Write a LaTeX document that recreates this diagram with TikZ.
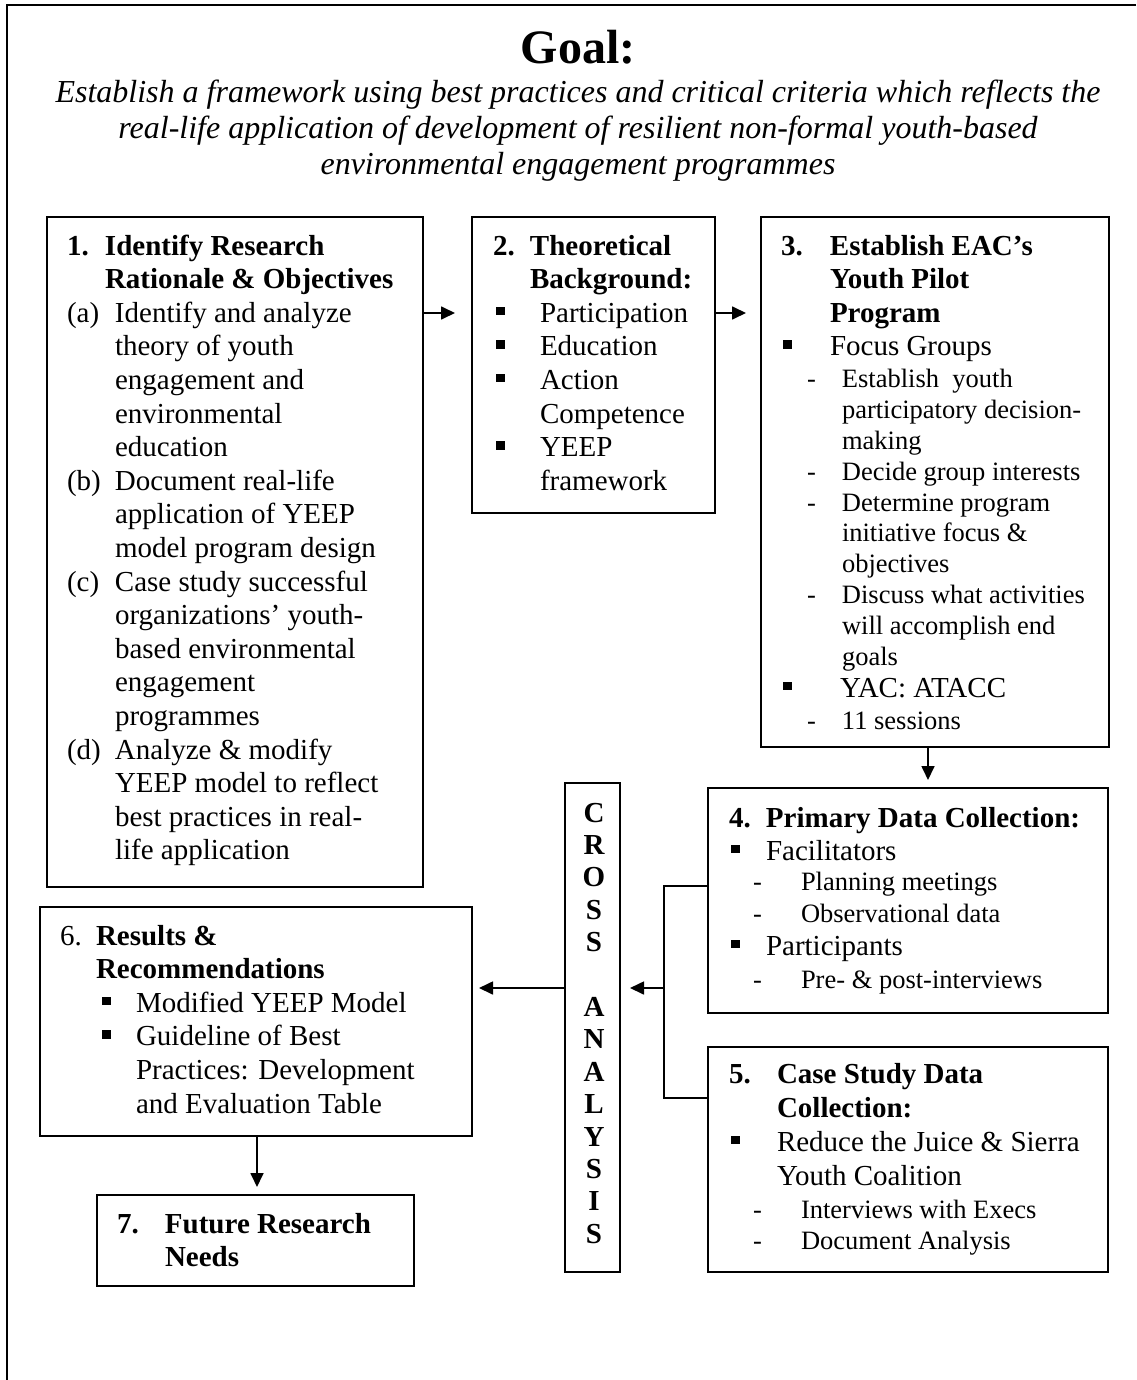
\documentclass[tikz,border=0pt]{standalone}
\usepackage{fontspec}
\setmainfont{Liberation Serif}
\usetikzlibrary{arrows.meta}

% body and sub-item fonts
\newcommand\mf{\fontsize{29pt}{33.6pt}\selectfont}
\newcommand\subfont{\fontsize{26.5pt}{31pt}\selectfont}
% one text line set #1 pt below the previous baseline
\newcommand\bxl[2]{\baselineskip=#1pt\hbox{#2}}
% square list bullet
\newcommand\sqb{\rule[7pt]{8.5pt}{8.5pt}}
% a stack of lines whose first baseline is the node's base
\newcommand\stack[1]{\vtop{\lineskiplimit=-100pt\lineskip=0pt #1}}
% centred single letter
\newcommand\cl[1]{\hbox to 0pt{\hss\mf\bfseries #1\hss}}

\begin{document}
\begin{tikzpicture}[x=1pt,y=-1pt,
  box/.style={draw, line width=1.7pt, rectangle, anchor=north west,
              inner sep=0pt, outer sep=0pt},
  txt/.style={anchor=base west, inner sep=0pt, outer sep=0pt},
  arr/.style={line width=1.7pt, -{Triangle[length=14pt,width=13pt]}},
  link/.style={line width=1.7pt}]

\useasboundingbox (0,0) rectangle (1136,1380);

% page frame (top and left rules)
\draw[line width=2.2pt] (1136,5) -- (7,5) -- (7,1380);

% heading
\node[anchor=base, inner sep=0pt] (goal) at (578,64)
  {\fontsize{48pt}{56pt}\selectfont\bfseries Goal:};
\node[anchor=base, inner sep=0pt] (aim) at (578,103) {\stack{%
  \itshape\fontsize{32pt}{36pt}\selectfont
  \hbox to 0pt{\hss Establish a framework using best practices and critical criteria which reflects the\hss}%
  \hbox to 0pt{\hss real-life application of development of resilient non-formal youth-based\hss}%
  \hbox to 0pt{\hss environmental engagement programmes\hss}}};

% frames
\node[box, minimum width=376pt, minimum height=670pt] (b1) at (47,217) {};
\node[box, minimum width=243pt, minimum height=296pt] (b2) at (472,217) {};
\node[box, minimum width=348pt, minimum height=530pt] (b3) at (761,217) {};
\node[box, minimum width=400pt, minimum height=225pt] (b4) at (708,788) {};
\node[box, minimum width=400pt, minimum height=225pt] (b5) at (708,1047) {};
\node[box, minimum width=55pt,  minimum height=489pt] (cross) at (565,783) {};
\node[box, minimum width=432pt, minimum height=229pt] (b6) at (40,907) {};
\node[box, minimum width=317pt, minimum height=91pt]  (b7) at (97,1195) {};

% 1
\node[txt] (t1) at (67,255) {\stack{%
  \bxl{0}{\mf\makebox[38pt][l]{\bfseries 1.}\bfseries Identify Research}%
  \bxl{33.6}{\mf\kern38pt\bfseries Rationale \& Objectives}%
  \bxl{33.6}{\mf\makebox[48pt][l]{(a)}Identify and analyze}%
  \bxl{33.6}{\mf\kern48pt theory of youth}%
  \bxl{33.6}{\mf\kern48pt engagement and}%
  \bxl{33.6}{\mf\kern48pt environmental}%
  \bxl{33.6}{\mf\kern48pt education}%
  \bxl{33.6}{\mf\makebox[48pt][l]{(b)}Document real-life}%
  \bxl{33.6}{\mf\kern48pt application of YEEP}%
  \bxl{33.6}{\mf\kern48pt model program design}%
  \bxl{33.6}{\mf\makebox[48pt][l]{(c)}Case study successful}%
  \bxl{33.6}{\mf\kern48pt organizations’ youth-}%
  \bxl{33.6}{\mf\kern48pt based environmental}%
  \bxl{33.6}{\mf\kern48pt engagement}%
  \bxl{33.6}{\mf\kern48pt programmes}%
  \bxl{33.6}{\mf\makebox[48pt][l]{(d)}Analyze \& modify}%
  \bxl{33.6}{\mf\kern48pt YEEP model to reflect}%
  \bxl{33.6}{\mf\kern48pt best practices in real-}%
  \bxl{33.6}{\mf\kern48pt life application}}};

% 2
\node[txt] (t2) at (493,255) {\stack{%
  \bxl{0}{\mf\makebox[37pt][l]{\bfseries 2.}\bfseries Theoretical}%
  \bxl{33.6}{\mf\kern37pt\bfseries Background:}%
  \bxl{33.6}{\mf\makebox[47pt][l]{\kern3pt\sqb}Participation}%
  \bxl{33.6}{\mf\makebox[47pt][l]{\kern3pt\sqb}Education}%
  \bxl{33.6}{\mf\makebox[47pt][l]{\kern3pt\sqb}Action}%
  \bxl{33.6}{\mf\kern47pt Competence}%
  \bxl{33.6}{\mf\makebox[47pt][l]{\kern3pt\sqb}YEEP}%
  \bxl{33.6}{\mf\kern47pt framework}}};

% 3
\node[txt] (t3) at (781,255) {\stack{%
  \bxl{0}{\mf\makebox[49pt][l]{\bfseries 3.}\bfseries Establish EAC’s}%
  \bxl{33.6}{\mf\kern49pt\bfseries Youth Pilot}%
  \bxl{33.6}{\mf\kern49pt\bfseries Program}%
  \bxl{33.6}{\mf\makebox[49pt][l]{\kern2pt\sqb}Focus Groups}%
  \bxl{32}{\subfont\makebox[61pt][l]{\kern26pt-}Establish\ \ youth}%
  \bxl{30.8}{\subfont\kern61pt participatory decision-}%
  \bxl{30.8}{\subfont\kern61pt making}%
  \bxl{30.8}{\subfont\makebox[61pt][l]{\kern26pt-}Decide group interests}%
  \bxl{30.8}{\subfont\makebox[61pt][l]{\kern26pt-}Determine program}%
  \bxl{30.8}{\subfont\kern61pt initiative focus \&}%
  \bxl{30.8}{\subfont\kern61pt objectives}%
  \bxl{30.8}{\subfont\makebox[61pt][l]{\kern26pt-}Discuss what activities}%
  \bxl{30.8}{\subfont\kern61pt will accomplish end}%
  \bxl{30.8}{\subfont\kern61pt goals}%
  \bxl{32}{\mf\makebox[59pt][l]{\kern2pt\sqb}YAC: ATACC}%
  \bxl{32}{\subfont\makebox[61pt][l]{\kern26pt-}11 sessions}}};

% 4
\node[txt] (t4) at (729,827) {\stack{%
  \bxl{0}{\mf\makebox[37pt][l]{\bfseries 4.}\bfseries Primary Data Collection:}%
  \bxl{33}{\mf\makebox[37pt][l]{\kern2pt\sqb}Facilitators}%
  \bxl{30}{\subfont\makebox[72pt][l]{\kern24pt-}Planning meetings}%
  \bxl{32}{\subfont\makebox[72pt][l]{\kern24pt-}Observational data}%
  \bxl{33}{\mf\makebox[37pt][l]{\kern2pt\sqb}Participants}%
  \bxl{33}{\subfont\makebox[72pt][l]{\kern24pt-}Pre- \& post-interviews}}};

% 5
\node[txt] (t5) at (729,1083) {\stack{%
  \bxl{0}{\mf\makebox[48pt][l]{\bfseries 5.}\bfseries Case Study Data}%
  \bxl{34}{\mf\kern48pt\bfseries Collection:}%
  \bxl{34}{\mf\makebox[48pt][l]{\kern2pt\sqb}Reduce the Juice \& Sierra}%
  \bxl{34}{\mf\kern48pt Youth Coalition}%
  \bxl{33}{\subfont\makebox[72pt][l]{\kern24pt-}Interviews with Execs}%
  \bxl{31}{\subfont\makebox[72pt][l]{\kern24pt-}Document Analysis}}};

% cross analysis column
\node[anchor=base, inner sep=0pt] (ct) at (594,822) {\stack{%
  \bxl{0}{\cl{C}}\bxl{32.4}{\cl{R}}\bxl{32.4}{\cl{O}}\bxl{32.4}{\cl{S}}%
  \bxl{32.4}{\cl{S}}\bxl{64.8}{\cl{A}}\bxl{32.4}{\cl{N}}\bxl{32.4}{\cl{A}}%
  \bxl{32.4}{\cl{L}}\bxl{32.4}{\cl{Y}}\bxl{32.4}{\cl{S}}\bxl{32.4}{\cl{I}}%
  \bxl{32.4}{\cl{S}}}};

% 6
\node[txt] (t6) at (60,945) {\stack{%
  \bxl{0}{\mf\makebox[36pt][l]{6.}\bfseries Results \&}%
  \bxl{33.6}{\mf\kern36pt\bfseries Recommendations}%
  \bxl{33.6}{\mf\makebox[76pt][l]{\kern42pt\sqb}Modified YEEP Model}%
  \bxl{33.6}{\mf\makebox[76pt][l]{\kern42pt\sqb}Guideline of Best}%
  \bxl{33.6}{\mf\kern76pt Practices: Development}%
  \bxl{33.6}{\mf\kern76pt and Evaluation Table}}};

% 7
\node[txt] (t7) at (117,1233) {\stack{%
  \bxl{0}{\mf\makebox[48pt][l]{\bfseries 7.}\bfseries Future Research}%
  \bxl{33.6}{\mf\kern48pt\bfseries Needs}}};

% connectors
\draw[arr] ([yshift=-96pt]b1.north east) -- ([yshift=-96pt,xshift=-17pt]b2.north west);
\draw[arr] ([yshift=-96pt]b2.north east) -- ([yshift=-96pt,xshift=-15pt]b3.north west);
\draw[arr] ([xshift=167pt]b3.south west) -- ([xshift=220pt,yshift=8pt]b4.north west);

\coordinate (j) at (664,988);
\path ([xshift=10pt]cross.east) coordinate (ce);
\path ([xshift=7pt]b6.east) coordinate (be);
\draw[link] ([yshift=-98pt]b4.north west) -| (j) |- ([yshift=-51pt]b5.north west);
\draw[arr] (j) -- (j -| ce);
\draw[arr] (cross.west |- j) -- (j -| be);
\draw[arr] ([xshift=217pt]b6.south west) -- ([xshift=160pt,yshift=8pt]b7.north west);

\end{tikzpicture}
\end{document}
